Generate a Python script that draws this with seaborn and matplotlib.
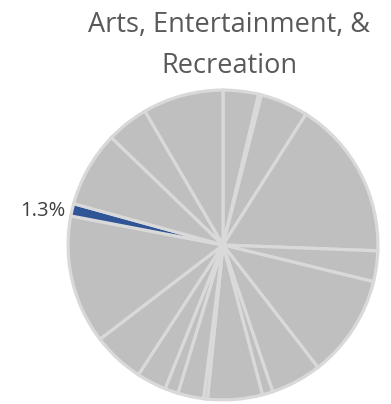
import matplotlib
matplotlib.use("Agg")
import matplotlib.pyplot as plt
import matplotlib.transforms as mtransforms
import seaborn as sns

# Share of each sector (percent), clockwise from 12 o'clock
sectors = [
    "Sector 01", "Sector 02", "Sector 03", "Sector 04", "Sector 05",
    "Sector 06", "Sector 07", "Sector 08", "Sector 09", "Sector 10",
    "Sector 11", "Sector 12", "Sector 13", "Sector 14", "Sector 15",
    "Arts, Entertainment, & Recreation", "Sector 17", "Sector 18", "Sector 19",
]
shares = [3.7, 0.3, 5.0, 16.6, 3.2, 10.7, 5.3, 1.1, 5.7, 0.4,
          2.7, 1.4, 3.1, 5.4, 13.4, 1.3, 7.9, 4.4, 8.4]
highlight = "Arts, Entertainment, & Recreation"
title = "Arts, Entertainment, &\nRecreation"

sns.set_theme(style="white")
plt.rcParams["font.family"] = ["Open Sans", "DejaVu Sans"]

fig = plt.figure(figsize=(3.91, 4.04), dpi=100)
W, H = 391, 404
cx, cy, r = 223, 245, 158
ax = fig.add_axes([(cx - r) / W, (H - cy - r) / H, 2 * r / W, 2 * r / H])

colors = ["#2F5597" if s == highlight else "#BFBFBF" for s in sectors]
labels = [f"{v:.1f}%" if s == highlight else "" for s, v in zip(sectors, shares)]

wedges, texts = ax.pie(
    shares, colors=colors, labels=labels, startangle=90, counterclock=False,
    labeldistance=1.05,
    wedgeprops=dict(edgecolor="#D9D9D9", linewidth=2.3),
    textprops=dict(color="#404040", fontsize=14.5),
)
for t in texts:
    t.set_va("center")
    t.set_transform(mtransforms.offset_copy(t.get_transform(), fig=fig,
                                            x=1, y=-3, units="dots"))
ax.set_xlim(-1.02, 1.02)
ax.set_ylim(-1.02, 1.02)
ax.set_aspect("equal")
ax.axis("off")

fig.text(229 / W, 1 - 11 / H, title, ha="center", va="top",
         fontsize=19.5, color="#595959", linespacing=1.62)

fig.savefig("out.png", dpi=100)
